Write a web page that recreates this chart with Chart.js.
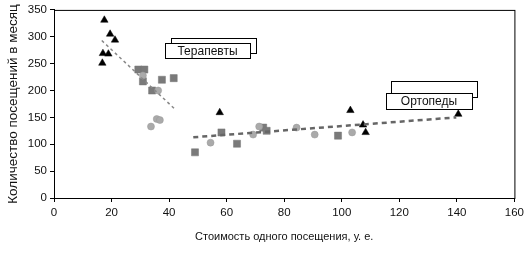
<!DOCTYPE html>
<html>
<head>
<meta charset="utf-8">
<script src="https://cdn.jsdelivr.net/npm/chart.js@4/dist/chart.umd.min.js"></script>
<style>
  body { margin: 0; background: #fff; }
  #wrap { width: 528px; height: 254px; }
</style>
</head>
<body>
<div id="wrap"><canvas id="scatter"></canvas></div>
<script>
// points
var triX = [17.5, 19.5, 21.2, 17.0, 18.9, 16.8, 57.6, 103, 107.4, 108.3, 140.5];
var triY = [331, 305, 294, 269, 268, 251, 159, 163, 136, 122, 156];
var sqX = [29.3, 31.4, 30.9, 34.1, 37.5, 41.6, 49, 58.2, 63.6, 72.7, 73.9, 98.7];
var sqY = [239, 239, 217, 200, 220, 223, 85, 122, 101, 131, 125, 116];
var circX = [30.9, 36.2, 35.7, 36.8, 33.7, 54.4, 69.2, 71.3, 84.3, 90.6, 103.6];
var circY = [228, 200, 147, 145, 133, 103, 118, 133, 131, 118, 122];
// trend lines
var therX = [16.6, 42.1];
var therY = [293, 165];
var orthX = [48.4, 139.8];
var orthY = [113, 150];
var xTicks = [0, 20, 40, 60, 80, 100, 120, 140, 160];
var yTicks = [0, 50, 100, 150, 200, 250, 300, 350];

function pts(xs, ys) {
    return xs.map(function (x, i) { return {x: x, y: ys[i]}; });
}

// boxed labels with a shifted copy behind them
var labelBoxes = {
    id: 'labelBoxes',
    afterDatasetsDraw: function (chart) {
        var ctx = chart.ctx;
        var boxes = [
            {text: 'Терапевты', x: 165, y: 43, w: 85, h: 15, dx: 6, dy: -5},
            {text: 'Ортопеды', x: 386, y: 93, w: 86, h: 16, dx: 5, dy: -12}
        ];
        ctx.save();
        ctx.lineWidth = 1;
        ctx.strokeStyle = '#000';
        boxes.forEach(function (b) {
            ctx.fillStyle = '#fff';
            ctx.fillRect(b.x + b.dx + 0.5, b.y + b.dy + 0.5, b.w, b.h);
            ctx.strokeRect(b.x + b.dx + 0.5, b.y + b.dy + 0.5, b.w, b.h);
            ctx.fillRect(b.x + 0.5, b.y + 0.5, b.w, b.h);
            ctx.strokeRect(b.x + 0.5, b.y + 0.5, b.w, b.h);
            ctx.fillStyle = '#111';
            ctx.font = '12px "Liberation Sans", Arial, sans-serif';
            ctx.textAlign = 'center';
            ctx.textBaseline = 'middle';
            ctx.fillText(b.text, b.x + b.w / 2, b.y + b.h / 2 + 1);
        });
        // frame round the plot
        var a = chart.chartArea;
        ctx.strokeRect(a.left + 0.5, a.top + 0.5, a.right - a.left, a.bottom - a.top);
        ctx.restore();
    }
};

var font = {family: '"Liberation Sans", Arial, sans-serif', size: 11};
var tickFont = {family: font.family, size: 11.5};

var graph = document.getElementById('scatter').getContext('2d');
var myChart = new Chart(graph, {
    type: 'scatter',
    data: {
        datasets: [{
            label: 'Терапевты тренд',
            data: pts(therX, therY),
            showLine: true,
            borderColor: '#888',
            borderWidth: 1.5,
            borderDash: [3, 3],
            pointRadius: 0
        }, {
            label: 'Ортопеды тренд',
            data: pts(orthX, orthY),
            showLine: true,
            borderColor: '#666',
            borderWidth: 2.5,
            borderDash: [5, 4],
            pointRadius: 0
        }, {
            label: 'circles',
            data: pts(circX, circY),
            pointStyle: 'circle',
            pointRadius: 3.5,
            backgroundColor: '#aaa',
            borderColor: '#999',
            borderWidth: 0.5
        }, {
            label: 'squares',
            data: pts(sqX, sqY),
            pointStyle: 'rect',
            pointRadius: 5,
            backgroundColor: '#7a7a7a',
            borderColor: '#777',
            borderWidth: 0.5
        }, {
            label: 'triangles',
            data: pts(triX, triY),
            pointStyle: 'triangle',
            pointRadius: 4.3,
            backgroundColor: '#000',
            borderColor: '#000',
            borderWidth: 0.5
        }]
    },
    options: {
        responsive: true,
        maintainAspectRatio: false,
        animation: false,
        layout: {padding: {top: 8, right: 12, bottom: 6, left: 1}},
        plugins: {legend: {display: false}, tooltip: {enabled: false}},
        scales: {
            x: {
                type: 'linear',
                min: 0, max: 160,
                afterFit: function (s) { s.height = 50; },
                afterBuildTicks: function (s) { s.ticks = xTicks.map(function (v) { return {value: v}; }); },
                grid: {drawOnChartArea: false, drawTicks: true, tickLength: 4, color: '#000'},
                border: {color: '#000'},
                ticks: {color: '#111', font: tickFont, padding: 4, maxRotation: 0},
                title: {display: true, text: 'Стоимость одного посещения, у. е.', color: '#111', font: font}
            },
            y: {
                min: 0, max: 350,
                afterFit: function (s) { s.width = 53; },
                afterBuildTicks: function (s) { s.ticks = yTicks.map(function (v) { return {value: v}; }); },
                grid: {drawOnChartArea: false, drawTicks: true, tickLength: 4, color: '#000'},
                border: {color: '#000'},
                ticks: {color: '#111', font: tickFont, padding: 3},
                title: {display: true, text: 'Количество посещений в месяц', color: '#111', font: {family: font.family, size: 13.5}}
            }
        }
    },
    plugins: [labelBoxes]
});
</script>
</body>
</html>
